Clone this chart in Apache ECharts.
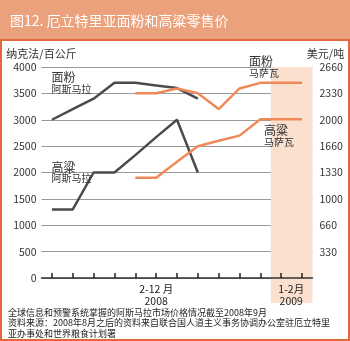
<!DOCTYPE html>
<html>
<head>
<meta charset="utf-8">
<script src="https://cdn.jsdelivr.net/npm/echarts@6/dist/echarts.min.js"></script>
<style>
  html, body { margin: 0; padding: 0; background: #fff; }
  #chart { width: 350px; height: 341px; }
</style>
</head>
<body>
<div id="chart"></div>
<script>
// 2008年2月 - 2009年2月，共13个月
const months = ['2008-02', '2008-03', '2008-04', '2008-05', '2008-06', '2008-07', '2008-08',
  '2008-09', '2008-10', '2008-11', '2008-12', '2009-01', '2009-02'];
const monthLabels = ['', '', '', '', '', '2-12 月\n2008', '', '', '', '', '', '1-2月\n2009', ''];

// 阿斯马拉 (纳克法/百公斤，左轴)
const flourAsmara = [3000, 3200, 3400, 3700, 3700, 3650, 3600, 3400, null, null, null, null, null];
const sorghumAsmara = [1300, 1300, 2000, 2000, 2330, 2670, 3000, 2000, null, null, null, null, null];

// 马萨瓦 (美元/吨，右轴)
const flourMassawa = [null, null, null, null, 2330, 2330, 2390, 2330, 2130, 2390, 2460, 2460, 2460];
const sorghumMassawa = [null, null, null, null, 1265, 1265, 1465, 1660, 1730, 1795, 2000, 2000, 2000];

const rightTickLabels = ['330', '660', '1000', '1330', '1660', '2000', '2330', '2660'];

const FONT = '"Noto Sans CJK SC", "Noto Sans", sans-serif';
const DARK = '#4b4b4b';
const ORANGE = '#ef8a58';
const SHADE = '#fbdfcf';
const shadeColors = months.map((m, i) => (i >= 11 ? SHADE : 'rgba(255,255,255,0)'));

const chart = echarts.init(document.getElementById('chart'));

const labelRich = {
  a: { fontSize: 12, lineHeight: 12, color: '#333', fontFamily: FONT },
  b: { fontSize: 10, lineHeight: 11, color: '#333', fontFamily: FONT },
};

function nameMark(coord, text, offset) {
  return {
    symbol: 'circle',
    symbolSize: 1,
    itemStyle: { color: 'rgba(0,0,0,0)' },
    silent: true,
    data: [{
      coord: coord,
      label: {
        show: true,
        position: 'right',
        distance: 0,
        offset: offset,
        formatter: text,
        rich: labelRich,
      },
    }],
  };
}

chart.setOption({
  animation: false,
  textStyle: { fontFamily: FONT },
  graphic: [
    { type: 'rect', z: -10, shape: { x: 0, y: 0, width: 350, height: 39 }, style: { fill: '#eba17b' } },
    { type: 'rect', z: 100, shape: { x: 1, y: 40, width: 348, height: 300 }, style: { fill: 'none', stroke: '#e3673a', lineWidth: 2 } },
  ],
  title: [
    {
      text: '图12. 厄立特里亚面粉和高粱零售价',
      left: 10,
      top: 12,
      padding: 0,
      z: 10,
      textStyle: { color: '#fff', fontSize: 14, fontWeight: 'normal', lineHeight: 18, fontFamily: FONT },
    },
    {
      text: '全球信息和预警系统掌握的阿斯马拉市场价格情况截至2008年9月\n资料来源：2008年8月之后的资料来自联合国人道主义事务协调办公室驻厄立特里\n亚办事处和世界粮食计划署',
      left: 8,
      top: 307,
      padding: 0,
      z: 10,
      textStyle: { color: '#222', fontSize: 9, fontWeight: 'normal', lineHeight: 10.5, fontFamily: FONT },
    },
  ],
  grid: [
    { left: 41.5, right: 37.5, top: 67, bottom: 63 },
    // 轴下方的标签条，用于延伸2009年阴影
    { left: 41.5, right: 37.5, top: 278, bottom: 38 },
  ],
  xAxis: [
    {
      type: 'category',
      gridIndex: 0,
      data: months,
      axisLine: { show: true, lineStyle: { color: '#333', width: 1.5 } },
      axisTick: { show: true, interval: 0, inside: true, alignWithLabel: true, length: 5, lineStyle: { color: '#222', width: 1.5 } },
      axisLabel: { show: false, interval: 0 },
      splitLine: { show: false },
      splitArea: { show: true, interval: 0, areaStyle: { color: shadeColors } },
    },
    {
      type: 'category',
      gridIndex: 1,
      data: months,
      position: 'top',
      axisLine: { show: false },
      axisTick: { show: false },
      axisLabel: {
        inside: true,
        interval: 0,
        margin: 5,
        color: '#222',
        fontSize: 10.5,
        lineHeight: 12,
        formatter: (v, i) => {
          const t = monthLabels[i];
          if (i === 11) return t.split('\n').map(s => '{p|' + s + '}').join('\n');
          return t;
        },
        rich: { p: { padding: [0, 0, 0, 20], fontSize: 10.5, lineHeight: 12, color: '#222' } },
      },
      splitLine: { show: false },
      splitArea: { show: true, interval: 0, areaStyle: { color: shadeColors } },
    },
  ],
  yAxis: [
    {
      type: 'value',
      gridIndex: 0,
      min: 0,
      max: 4000,
      interval: 500,
      name: '纳克法/百公斤',
      nameGap: 8,
      nameTextStyle: { color: '#333', fontSize: 11, align: 'center', verticalAlign: 'bottom' },
      axisLine: { show: false },
      axisTick: { show: false },
      axisLabel: { color: '#333', fontSize: 10.5, margin: 5, formatter: v => String(v) },
      splitLine: { show: true, lineStyle: { color: '#9a9a9a', width: 1 } },
    },
    {
      type: 'value',
      gridIndex: 0,
      min: 0,
      max: 2660,
      interval: 332.5,
      name: '美元/吨',
      nameGap: 8,
      nameTextStyle: { color: '#333', fontSize: 11, align: 'center', verticalAlign: 'bottom', padding: [0, 0, 0, 26] },
      axisLine: { show: false },
      axisTick: { show: false },
      axisLabel: {
        color: '#333',
        fontSize: 10.5,
        margin: 7,
        formatter: v => {
          const i = Math.round(v / 332.5);
          return i > 0 ? rightTickLabels[i - 1] : '';
        },
      },
      splitLine: { show: false },
    },
    {
      type: 'value',
      gridIndex: 1,
      min: 0,
      max: 1,
      show: false,
    },
  ],
  series: [
    {
      name: '面粉 阿斯马拉',
      type: 'line',
      yAxisIndex: 0,
      data: flourAsmara,
      showSymbol: false,
      lineStyle: { color: DARK, width: 2.5 },
      itemStyle: { color: DARK },
      markPoint: nameMark([0, 3700], '{a|面粉}\n{b|阿斯马拉}', [-1, 0]),
    },
    {
      name: '高粱 阿斯马拉',
      type: 'line',
      yAxisIndex: 0,
      data: sorghumAsmara,
      showSymbol: false,
      lineStyle: { color: DARK, width: 2.5 },
      itemStyle: { color: DARK },
      markPoint: nameMark([0, 2000], '{a|高粱}\n{b|阿斯马拉}', [-1, 0]),
    },
    {
      name: '面粉 马萨瓦',
      type: 'line',
      yAxisIndex: 1,
      data: flourMassawa,
      showSymbol: false,
      lineStyle: { color: ORANGE, width: 2.5 },
      itemStyle: { color: ORANGE },
      markPoint: nameMark([10, 2660], '{a|面粉}\n{b|马萨瓦}', [-12, 0]),
    },
    {
      name: '高粱 马萨瓦',
      type: 'line',
      yAxisIndex: 1,
      data: sorghumMassawa,
      showSymbol: false,
      lineStyle: { color: ORANGE, width: 2.5 },
      itemStyle: { color: ORANGE },
      markPoint: nameMark([10, 1790], '{a|高粱}\n{b|马萨瓦}', [3, 0]),
    },
  ],
});
</script>
</body>
</html>
